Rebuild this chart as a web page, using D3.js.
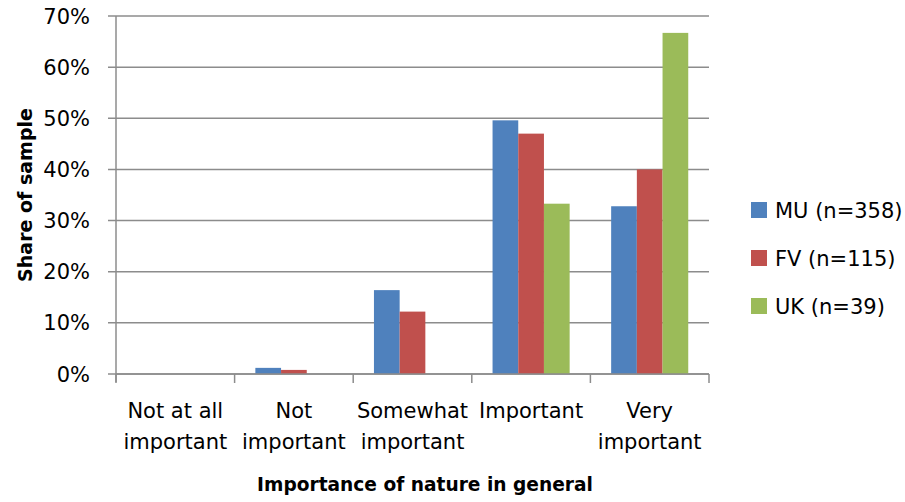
<!DOCTYPE html>
<html><head><meta charset="utf-8">
<script src="https://cdn.jsdelivr.net/npm/d3@7"></script>
<style>body{margin:0;background:#fff}svg{display:block}text{font-family:"DejaVu Sans",sans-serif;fill:#000}</style>
</head><body><svg id="c" width="905" height="502"></svg>
<script>
const categories = [["Not at all","important"],["Not","important"],["Somewhat","important"],["Important"],["Very","important"]];
const seriesNames = ["MU (n=358)","FV (n=115)","UK (n=39)"];
const mu = [0, 1.2, 16.4, 49.6, 32.8];
const fv = [0, 0.8, 12.2, 47.0, 40.0];
const uk = [0, 0, 0, 33.3, 66.7];
const colors = ["#4F81BD","#C0504D","#9BBB59"];
const yTicks = [0,10,20,30,40,50,60,70];
const xTitle = "Importance of nature in general";
const yTitle = "Share of sample";

const series = [mu, fv, uk];
const svg = d3.select("#c");
const L = 116, R = 709, T = 16, B = 374;
const x = d3.scaleBand().domain(d3.range(categories.length)).range([L, R]).paddingInner(0.35).paddingOuter(0.175);
const xc = d3.scaleBand().domain(d3.range(categories.length)).range([L, R]);
const y = d3.scaleLinear().domain([0,70]).range([B, T]);
const xs = d3.scaleBand().domain(d3.range(series.length)).range([0, x.bandwidth()]);

// gridlines
svg.append("g").selectAll("line").data(yTicks).join("line")
  .attr("x1", L-8).attr("x2", R).attr("y1", d=>y(d)).attr("y2", d=>y(d))
  .attr("stroke", "#8c8c8c").attr("stroke-width", 1.5);
// y axis line
svg.append("line").attr("x1", L).attr("x2", L).attr("y1", T).attr("y2", B+8).attr("stroke","#8c8c8c").attr("stroke-width",1.5);
// y tick labels
svg.append("g").selectAll("text").data(yTicks).join("text")
  .attr("x", 90).attr("y", d=>y(d)).attr("dy","0.36em").attr("text-anchor","end")
  .style("font-size","21px").text(d=>d+"%");

// bars
series.forEach((s, si) => {
  svg.append("g").selectAll("rect").data(s).join("rect")
    .attr("x", (d,i)=> x(i) + xs(si)).attr("width", xs.bandwidth())
    .attr("y", d=>y(d)).attr("height", d=>B - y(d))
    .attr("fill", colors[si]);
});

// x axis
svg.append("line").attr("x1", L).attr("x2", R).attr("y1", B).attr("y2", B).attr("stroke","#8c8c8c").attr("stroke-width",1.5);
svg.append("g").selectAll("line").data(d3.range(categories.length+1)).join("line")
  .attr("x1", i=> i<categories.length ? xc(i) : R).attr("x2", i=> i<categories.length ? xc(i) : R)
  .attr("y1", B).attr("y2", B+9).attr("stroke","#8c8c8c").attr("stroke-width",1.5);

// category labels
const cl = svg.append("g").selectAll("text").data(categories).join("text")
  .attr("text-anchor","middle").style("font-size","21px");
cl.each(function(lines, i){
  const t = d3.select(this);
  lines.forEach((ln, k) => {
    t.append("tspan").attr("x", xc(i) + xc.bandwidth()/2).attr("y", 418 + k*31).text(ln);
  });
});

// axis titles
svg.append("text").attr("x", 425).attr("y", 491).attr("text-anchor","middle")
  .style("font-size","18.6px").style("font-weight","bold").text(xTitle);
svg.append("text").attr("transform","translate(32,195) rotate(-90)").attr("text-anchor","middle")
  .style("font-size","19px").style("font-weight","bold").text(yTitle);

// legend
const lg = svg.append("g").selectAll("g").data(seriesNames).join("g")
  .attr("transform", (d,i)=>`translate(751,${202 + i*48})`);
lg.append("rect").attr("width",16).attr("height",16).attr("fill",(d,i)=>colors[i]);
lg.append("text").attr("x",24).attr("y",8).attr("dy","0.36em").style("font-size","21px").text(d=>d);
</script></body></html>
